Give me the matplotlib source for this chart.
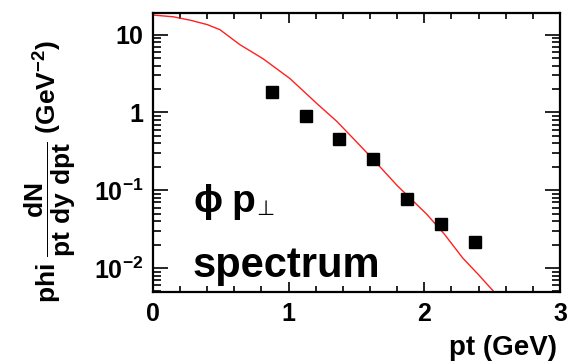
import numpy as np
import matplotlib
matplotlib.use('Agg')
import matplotlib.pyplot as plt
from matplotlib.ticker import FixedLocator, MultipleLocator, LogLocator, NullFormatter

plt.rcParams['font.family'] = ['Liberation Sans', 'DejaVu Sans']
plt.rcParams['font.weight'] = 'bold'
plt.rcParams['mathtext.fontset'] = 'custom'
plt.rcParams['mathtext.rm'] = 'Liberation Sans:bold'
plt.rcParams['mathtext.bf'] = 'Liberation Sans:bold'
plt.rcParams['mathtext.it'] = 'Liberation Sans:bold'

# data points (phi pt spectrum)
pt_data = [0.875, 1.125, 1.375, 1.625, 1.875, 2.125, 2.375]
yield_data = [1.82, 0.89, 0.46, 0.252, 0.078, 0.037, 0.0216]
yield_err = [0.18, 0.07, 0.04, 0.02, 0.006, 0.004, 0.003]

# model curve
pt_model = [0.0, 0.15, 0.273, 0.4, 0.494, 0.641, 0.811, 1.01, 1.209, 1.356, 1.5, 1.621, 1.8, 2.019, 2.15, 2.284, 2.4, 2.52]
yield_model = [17.9, 17.0, 15.4, 13.5, 11.6, 7.45, 4.92, 2.73, 1.30, 0.767, 0.42, 0.252, 0.115, 0.049, 0.027, 0.0134, 0.0082, 0.0048]

ytick_vals = [0.01, 0.1, 1, 10]
ytick_labels = ['$10^{-2}$', '$10^{-1}$', '1', '10']
xtick_vals = [0, 1, 2, 3]

fig = plt.figure(figsize=(5.77, 3.62), dpi=100)
ax = fig.add_axes([0.265, 0.193, 0.7055, 0.771])

ax.plot(pt_model, yield_model, color='#ff2020', lw=1.0)
ax.errorbar(pt_data, yield_data, yerr=yield_err, fmt='s', color='black',
            markersize=8, elinewidth=1.0, capsize=0)

ax.set_yscale('log')
ax.set_xlim(0, 3)
ax.set_ylim(0.0049, 19)

ax.xaxis.set_major_locator(FixedLocator(xtick_vals))
ax.xaxis.set_minor_locator(MultipleLocator(0.2))
ax.yaxis.set_major_locator(FixedLocator(ytick_vals))
ax.yaxis.set_minor_locator(LogLocator(base=10, subs=np.arange(2, 10)))
ax.yaxis.set_minor_formatter(NullFormatter())
ax.set_yticklabels(ytick_labels)
ax.set_xticklabels([str(v) for v in xtick_vals])

ax.tick_params(which='both', direction='in', top=True, right=True, width=1.2,
               labelsize=18, pad=7)
ax.tick_params(axis='y', which='major', length=11)
ax.tick_params(axis='y', which='minor', length=6)
ax.tick_params(axis='x', which='major', length=7)
ax.tick_params(axis='x', which='minor', length=4)
for s in ax.spines.values():
    s.set_linewidth(1.6)

fig.text(557 / 577, 1 - 355 / 362, 'pt (GeV)', fontsize=20, fontweight='bold',
         ha='right', va='baseline')
fig.text(50 / 577, 1 - 303 / 362, r'phi $\dfrac{dN}{pt\ dy\ dpt}$ (GeV$^{-2}$)',
         fontsize=19, fontweight='bold', rotation=90, ha='center', va='bottom')

# "phi p_perp" label, built from three pieces
ax.text(0.098, 0.287, r'$\phi$', transform=ax.transAxes, fontsize=28,
        fontweight='bold', va='baseline')
ax.text(0.192, 0.287, 'p', transform=ax.transAxes, fontsize=28,
        fontweight='bold', va='baseline')
ax.text(0.254, 0.275, '⊥', transform=ax.transAxes, fontsize=15,
        fontweight='normal', family='DejaVu Sans', va='baseline')
ax.text(0.098, 0.054, 'spectrum', transform=ax.transAxes, fontsize=30,
        fontweight='bold', va='baseline')

fig.savefig('out.png', dpi=100)
